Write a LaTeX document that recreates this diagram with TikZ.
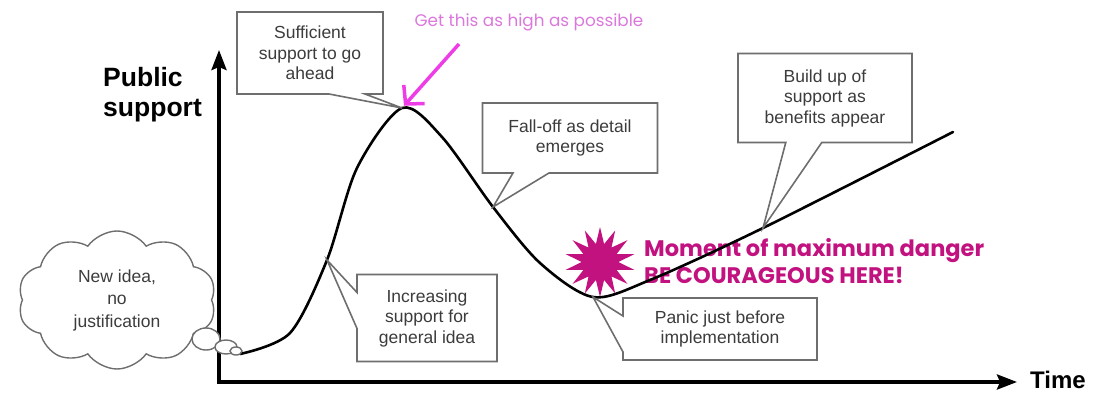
\documentclass[tikz,border=0pt]{standalone}
\usepackage{fontspec}
\setmainfont{Liberation Sans}
\newfontfamily\poppins{Poppins}
\usetikzlibrary{arrows.meta, shapes.callouts, shapes.symbols, shapes.geometric}
\definecolor{BoxGray}{HTML}{6E6E6E}
\definecolor{TextGray}{HTML}{3C3C3C}
\definecolor{DangerPink}{HTML}{C2127F}
\definecolor{HintPink}{HTML}{DA78DC}
\definecolor{ArrowPink}{HTML}{EE3DE6}

\begin{document}
\begin{tikzpicture}[x=1pt, y=-1pt,
    axis/.style={line width=3.5pt, -{Stealth[length=20pt, width=15pt, inset=3pt]}},
    callbox/.style={rectangle callout, draw=BoxGray, line width=1.6pt, fill=white,
      text=TextGray, align=center, inner sep=0pt, callout pointer width=36pt,
      font=\fontsize{17.5}{20.5}\selectfont},
    bubble/.style={ellipse, draw=BoxGray, line width=1.4pt, fill=white, inner sep=0pt},
    axislabel/.style={font=\fontsize{26.5}{30}\selectfont\bfseries, inner sep=0pt}]
    \useasboundingbox (0,0) rectangle (1108,393);
    % Axes
    \coordinate (O) at (219,382);
    \coordinate (ybot) at (219,384);
    \coordinate (ytop) at (219,50);
    \coordinate (xend) at (1017,382);
    \draw[axis] (ybot) -- (ytop);
    \draw[axis] (O) -- (xend);
    \node[axislabel, anchor=west, align=left] (ylab) at (103,95) {Public\\support};
    \node[axislabel, anchor=west, font=\fontsize{24}{28}\selectfont\bfseries] (xlab) at (1030,380) {Time};
    % Danger marker
    \node[star, star points=14, star point ratio=1.9, fill=DangerPink, minimum size=70, inner sep=0pt] (burst) at (600,262) {};
    \node[anchor=west, align=left, text=DangerPink, inner sep=0pt,
      font=\poppins\bfseries\fontsize{22.5}{27}\selectfont] (danger) at (644,261)
      {Moment of maximum danger\\BE COURAGEOUS HERE!};
    % Curve
    \coordinate (c0) at (240,354);
    \coordinate (c1) at (290,333);
    \coordinate (rise) at (327,260);
    \coordinate (c3) at (357,168);
    \coordinate (peak) at (402,108);
    \coordinate (c5) at (442,137);
    \coordinate (fall) at (493,207);
    \coordinate (c7) at (540,263);
    \coordinate (low) at (593,297);
    \coordinate (c9) at (650,280);
    \coordinate (build) at (763,228);
    \coordinate (c11) at (953,132);
    \draw[line width=2.6pt, line cap=round] plot[smooth, tension=0.5] coordinates
      {(c0) (c1) (rise) (c3) (peak) (c5) (fall) (c7) (low) (c9) (build) (c11)};
    % Thought cloud
    \node[cloud, cloud puffs=10, cloud puff arc=110, aspect=1.45, draw=BoxGray, line width=1.4pt,
      minimum width=198, minimum height=138, inner sep=0pt, align=center, text=TextGray,
      font=\fontsize{17.5}{22.5}\selectfont] (idea) at (117,300) {New idea,\\no\\justification};
    \node[bubble, minimum width=28, minimum height=22] (b1) at (206,339) {};
    \node[bubble, minimum width=22, minimum height=14] (b2) at (226,347) {};
    \node[bubble, minimum width=12, minimum height=8] (b3) at (236,351) {};
    % Callouts
    \node[callbox, minimum width=146, minimum height=82, callout absolute pointer={(peak)}] (suff) at (310,53)
      {Sufficient\\support to go\\ahead};
    \node[callbox, minimum width=175, minimum height=70, callout absolute pointer={(fall)}] (falloff) at (570,138)
      {Fall-off as detail\\emerges};
    \node[callbox, minimum width=174, minimum height=89, callout absolute pointer={(build)}] (buildup) at (825,98)
      {Build up of\\support as\\benefits appear};
    \node[callbox, minimum width=140, minimum height=87, callout absolute pointer={(rise)}] (incr) at (427,318)
      {Increasing\\support for\\general idea};
    \node[callbox, minimum width=194, minimum height=62, callout absolute pointer={(low)}] (panic) at (720,329)
      {Panic just before\\implementation};
    % Hint
    \node[text=HintPink, inner sep=0pt, font=\poppins\fontsize{16.8}{19}\selectfont] (hint) at (529,22)
      {Get this as high as possible};
    \coordinate (hintstart) at (459,44);
    \draw[ArrowPink, line width=3.5pt, shorten >=3pt, -{Straight Barb[length=13pt, width=28pt]}] (hintstart) -- (peak);
\end{tikzpicture}
\end{document}
